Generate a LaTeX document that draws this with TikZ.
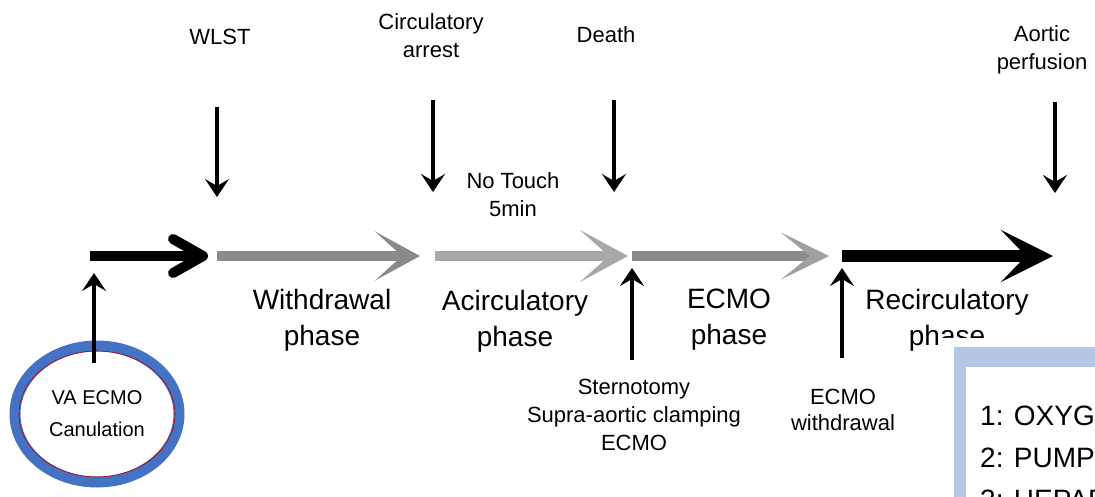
\documentclass[tikz,border=0pt]{standalone}
\usepackage{fontspec}
\setmainfont{Liberation Sans}
\usetikzlibrary{arrows.meta,shapes.geometric}
\definecolor{ringblue}{RGB}{68,114,196}
\definecolor{boxblue}{RGB}{180,199,231}
\definecolor{ringred}{RGB}{192,0,0}
\definecolor{greyA}{RGB}{138,138,138}
\definecolor{greyB}{RGB}{168,168,168}
\definecolor{greyC}{RGB}{160,160,160}
\begin{document}
\begin{tikzpicture}[x=1pt,y=-1pt,
  small/.style={font=\fontsize{22}{28}\selectfont, align=center, inner sep=0pt},
  phaselbl/.style={font=\fontsize{28}{36}\selectfont, align=center, inner sep=0pt},
  listlbl/.style={font=\fontsize{28}{34}\selectfont, anchor=base west, inner sep=0pt},
  marker/.style={line width=4.5pt, -{Stealth[length=18pt,width=24pt,inset=7pt]}},
  blackbarb/.style={line width=10pt, -{Straight Barb[length=30pt,width=34pt,round]}},
  bighead/.style={-{Stealth[length=#1,width=50pt,inset=27pt]}},
]
\useasboundingbox (0,0) rectangle (1095,496);

% top event labels
\node[small] (wlst) at (220,37) {WLST};
\node[small] (circarr) at (431,36) {Circulatory\\arrest};
\node[small] (death) at (606,35) {Death};
\node[small] (aortic) at (1042,50) {Aortic\\perfusion};
\node[small] (notouch) at (513,195) {No Touch\\5min};

% down arrows
\coordinate (wlstT) at (217,107);   \coordinate (wlstB) at (217,197);
\coordinate (caT) at (433,100);     \coordinate (caB) at (433,192);
\coordinate (deT) at (614,100);     \coordinate (deB) at (614,192);
\coordinate (aoT) at (1055,102);    \coordinate (aoB) at (1055,193);
\draw[marker] (wlstT) -- (wlstB);
\draw[marker] (caT) -- (caB);
\draw[marker] (deT) -- (deB);
\draw[marker] (aoT) -- (aoB);

% main timeline
\coordinate (h0) at (90,256);   \coordinate (h1) at (208,256);
\coordinate (h2) at (217,256);  \coordinate (h3) at (420,256);
\coordinate (h4) at (435,256);  \coordinate (h5) at (628,256);
\coordinate (h6) at (632,256);  \coordinate (h7) at (829,256);
\coordinate (h8) at (842,256);  \coordinate (h9) at (1053,256);
\draw[blackbarb] (h0) -- (h1);
\draw[greyA, line width=9.5pt, -{Stealth[length=45pt,width=49pt,inset=27pt]}] (h2) -- (h3);
\draw[greyB, line width=9.5pt, -{Stealth[length=48pt,width=52pt,inset=29pt]}] (h4) -- (h5);
\draw[greyA, line width=9.5pt, -{Stealth[length=48pt,width=47pt,inset=29pt,color=greyC]}] (h6) -- (h7);
\draw[black, line width=12pt, -{Stealth[length=52pt,width=52pt,inset=25pt]}] (h8) -- (h9);

% phase labels
\node[phaselbl] (withdrawal) at (322,320) {Withdrawal\\phase};
\node[phaselbl] (acirc) at (515,321) {Acirculatory\\phase};
\node[phaselbl] (ecmoph) at (729,320) {ECMO\\phase};
\node[phaselbl] (recirc) at (947,320) {Recirculatory\\phase};

% cannulation circle
\node[ellipse, draw=ringblue, fill=white, line width=11pt,
      minimum width=164pt, minimum height=136pt, inner sep=0pt,
      font=\fontsize{20}{32}\selectfont, align=center] (circ) at (97,414) {VA ECMO\\Canulation};
\draw[ringred, line width=0.6pt] (circ.center) ellipse [x radius=78pt, y radius=63pt];

% up arrows
\coordinate (c0) at (94,363);  \coordinate (c1) at (94,273);
\coordinate (s0) at (632,360); \coordinate (s1) at (632,268);
\coordinate (e0) at (842,358); \coordinate (e1) at (842,268);
\draw[marker] (c0) -- (c1);
\draw[marker] (s0) -- (s1);
\draw[marker] (e0) -- (e1);

% bottom event labels
\node[small] (stern) at (634,415) {Sternotomy\\Supra-aortic clamping\\ECMO};
\node[small, font=\fontsize{22}{26}\selectfont] (ecmow) at (843,410) {ECMO\\withdrawal};

% legend box (cropped at the picture edge)
\begin{scope}
\clip (0,0) rectangle (1095,496);
\fill[white] (940,338) rectangle (1110,510);
\fill[boxblue] (954,347) rectangle (1110,510);
\fill[white] (966,367) rectangle (1110,510);
\node[listlbl] (l1) at (980,425) {1: OXYGENATOR};
\node[listlbl] (l2) at (980,467) {2: PUMP};
\node[listlbl] (l3) at (980,509) {3: HEPARIN};
\end{scope}
\end{tikzpicture}
\end{document}
